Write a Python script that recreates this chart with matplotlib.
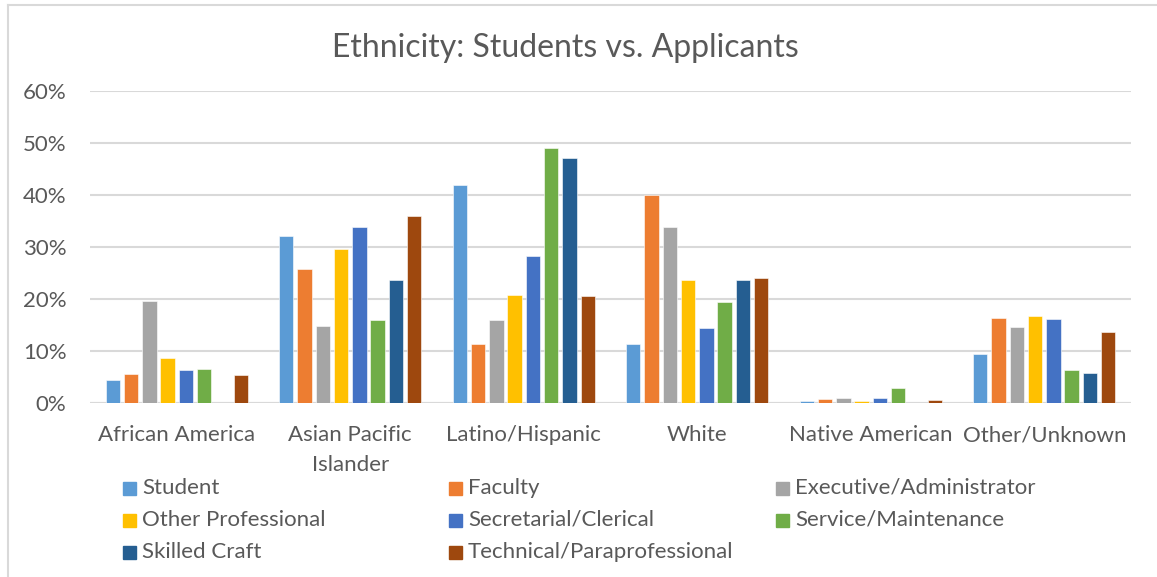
import matplotlib
matplotlib.use("Agg")
import matplotlib.pyplot as plt
import numpy as np
from matplotlib.patches import Rectangle
from matplotlib.lines import Line2D

# categories and series (share of each group, in percent)
groups = ["African America", "Asian Pacific\nIslander", "Latino/Hispanic",
          "White", "Native American", "Other/Unknown"]
series_names = ["Student", "Faculty", "Executive/Administrator",
                "Other Professional", "Secretarial/Clerical",
                "Service/Maintenance", "Skilled Craft",
                "Technical/Paraprofessional"]
student = [4.4, 32.2, 42.0, 11.4, 0.4, 9.5]
faculty = [5.5, 25.8, 11.3, 40.0, 0.7, 16.4]
executive = [19.6, 14.9, 15.9, 33.8, 0.9, 14.7]
other_prof = [8.7, 29.7, 20.8, 23.6, 0.3, 16.8]
secretarial = [6.3, 33.9, 28.2, 14.4, 1.0, 16.1]
service = [6.5, 15.9, 49.1, 19.4, 2.8, 6.4]
skilled = [0.0, 23.6, 47.1, 23.6, 0.0, 5.8]
technical = [5.3, 36.0, 20.5, 24.1, 0.5, 13.6]
yticks = [0, 10, 20, 30, 40, 50, 60]

colors = ["#5B9BD5", "#ED7D31", "#A5A5A5", "#FFC000",
          "#4472C4", "#70AD47", "#255E91", "#9E480E"]
text_color = "#595959"
grid_color = "#D9D9D9"

plt.rcParams['font.family'] = ['Lato', 'DejaVu Sans']

W, H = 1157, 577
fig = plt.figure(figsize=(W / 100, H / 100), dpi=100)


def fx(px):
    return px / W


def fy(py):
    return 1 - py / H


# plot area
ax = fig.add_axes([fx(90), fy(403), fx(1131) - fx(90), fy(91) - fy(403)])

data = [student, faculty, executive, other_prof,
        secretarial, service, skilled, technical]
x = np.arange(len(groups))
slot = 0.1054
bar_w = 0.0835
for i, (vals, col) in enumerate(zip(data, colors)):
    ax.bar(x + (i - 3.5) * slot, np.array(vals) / 100, width=bar_w,
           color=col, edgecolor="white", linewidth=0.4, zorder=3)

ax.set_xlim(-0.5, len(groups) - 0.5)
ax.set_ylim(0, 0.6)
ax.set_yticks([v / 100 for v in yticks])
ax.set_yticklabels([f"{v}%" for v in yticks])
ax.set_xticks(x)
ax.set_xticklabels(groups, linespacing=1.6)
ax.tick_params(axis="both", length=0, labelsize=16, colors=text_color)
ax.tick_params(axis="y", pad=17)
ax.tick_params(axis="x", pad=16)
ax.grid(axis="y", color=grid_color, linewidth=1.5, zorder=0)
for s in ax.spines.values():
    s.set_visible(False)
ax.axhline(0, color=grid_color, linewidth=1.5, zorder=2)

# title
fig.text(fx(565), fy(48), "Ethnicity: Students vs. Applicants",
         ha="center", va="center", fontsize=23, color=text_color)

# legend laid out in rows of three, as in the spreadsheet chart
col_x = [123, 449, 776]
row_y = [488, 520, 552]
for k, (name, col) in enumerate(zip(series_names, colors)):
    r, c = divmod(k, 3)
    px, py = col_x[c], row_y[r]
    fig.add_artist(Rectangle((fx(px), fy(py + 7)), fx(13), 13 / H,
                             transform=fig.transFigure, color=col))
    fig.text(fx(px + 19), fy(py), name, ha="left", va="center",
             fontsize=16, color=text_color)

# chart area border
fig.add_artist(Line2D([fx(8), fx(8)], [fy(5), 0], transform=fig.transFigure,
                      color="#D9D9D9", linewidth=1.5))
fig.add_artist(Line2D([fx(8), 1], [fy(5), fy(5)], transform=fig.transFigure,
                      color="#D9D9D9", linewidth=1.5))

fig.savefig("out.png", dpi=100, facecolor="white")
